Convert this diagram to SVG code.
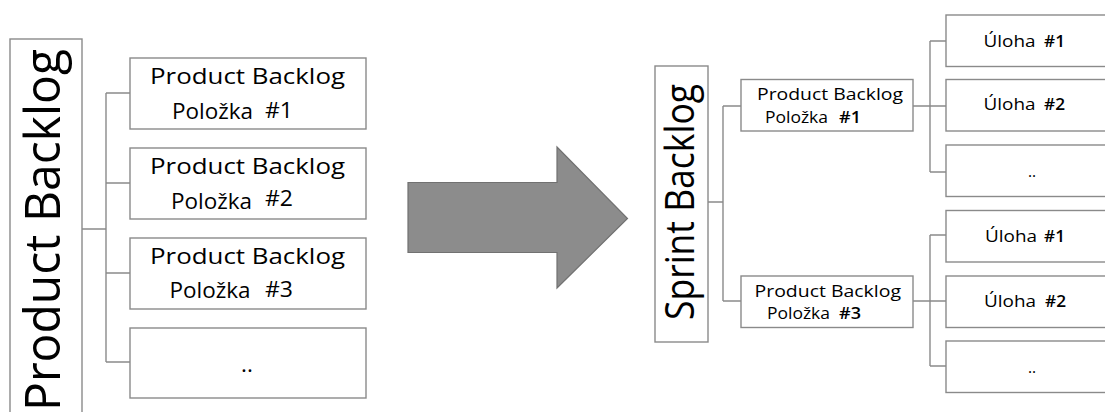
<svg xmlns="http://www.w3.org/2000/svg" width="1105" height="412" viewBox="0 0 1105 412">
<style>
.box{fill:#fff;stroke:#8a8a8a;stroke-width:1.4}
.ln{fill:none;stroke:#8a8a8a;stroke-width:1.4}
text{font-family:"Open Sans","Liberation Sans",sans-serif;fill:#000}
.t22{font-size:22.5px}
.t15{font-size:15.5px}
.h{font-weight:600}
</style>
<rect width="1105" height="412" fill="#fff"/>
<g id="connectors">
<path class="ln" d="M82 229H106M106 93V362M106 93H130M106 183H130M106 273H130M106 362H130"/>
<path class="ln" d="M708 202H723M723 106V301M723 106H741M723 301H741"/>
<path class="ln" d="M913 106H930M930 41V172M930 41H946M930 106H946M930 172H946"/>
<path class="ln" d="M913 301H930M930 235V366M930 235H946M930 301H946M930 366H946"/>
</g>
<g id="product-backlog">
<rect class="box" x="10" y="39" width="72" height="390"/>
<text transform="translate(60 411) rotate(-90)" font-size="49" textLength="362" lengthAdjust="spacingAndGlyphs">Product Backlog</text>
</g>
<g id="pb-item1">
<rect class="box" x="130" y="58" width="236" height="71"/>
<text class="t22" x="150" y="84" textLength="195" lengthAdjust="spacingAndGlyphs">Product Backlog</text>
<text class="t22" y="119"><tspan x="172" textLength="81" lengthAdjust="spacingAndGlyphs">Položka</tspan><tspan x="265" y="118" textLength="28" lengthAdjust="spacingAndGlyphs">#1</tspan></text>
</g>
<g id="pb-item2">
<rect class="box" x="130" y="148" width="236" height="71"/>
<text class="t22" x="150" y="174" textLength="195" lengthAdjust="spacingAndGlyphs">Product Backlog</text>
<text class="t22" y="209"><tspan x="171" textLength="81" lengthAdjust="spacingAndGlyphs">Položka</tspan><tspan x="265" y="206" textLength="28" lengthAdjust="spacingAndGlyphs">#2</tspan></text>
</g>
<g id="pb-item3">
<rect class="box" x="130" y="238" width="236" height="71"/>
<text class="t22" x="150" y="264" textLength="195" lengthAdjust="spacingAndGlyphs">Product Backlog</text>
<text class="t22" y="298"><tspan x="169.5" textLength="81" lengthAdjust="spacingAndGlyphs">Položka</tspan><tspan x="265" y="297" textLength="28" lengthAdjust="spacingAndGlyphs">#3</tspan></text>
</g>
<g id="pb-item4">
<rect class="box" x="130" y="328" width="236" height="70"/>
<text class="t22" x="247" y="372" text-anchor="middle">..</text>
</g>
<g id="arrow">
<polygon points="408,182.5 557,182.5 557,147 627.5,218.5 557,288 557,252.5 408,252.5" fill="#8c8c8c" stroke="#717171" stroke-width="1.2"/>
</g>
<g id="sprint-backlog">
<rect class="box" x="655" y="66" width="53" height="276"/>
<text transform="translate(694 320) rotate(-90)" font-size="40" textLength="236" lengthAdjust="spacingAndGlyphs">Sprint Backlog</text>
</g>
<g id="sb-item1">
<rect class="box" x="741" y="79.5" width="172" height="51.5"/>
<text class="t15" x="757" y="100" textLength="146" lengthAdjust="spacingAndGlyphs">Product Backlog</text>
<text class="t15" y="123"><tspan x="765" textLength="63" lengthAdjust="spacingAndGlyphs">Položka</tspan><tspan class="h" x="839" textLength="22" lengthAdjust="spacingAndGlyphs">#1</tspan></text>
</g>
<g id="sb-item3">
<rect class="box" x="741" y="276" width="172" height="51.5"/>
<text class="t15" x="754.5" y="296.5" textLength="146.5" lengthAdjust="spacingAndGlyphs">Product Backlog</text>
<text class="t15" y="319"><tspan x="767" textLength="63" lengthAdjust="spacingAndGlyphs">Položka</tspan><tspan class="h" x="839" textLength="22" lengthAdjust="spacingAndGlyphs">#3</tspan></text>
</g>
<g id="task1a">
<rect class="box" x="946" y="15" width="170" height="51.5"/>
<text class="t15" y="46.5"><tspan x="983.5" textLength="52" lengthAdjust="spacingAndGlyphs">Úloha</tspan><tspan class="h" x="1044" textLength="21" lengthAdjust="spacingAndGlyphs">#1</tspan></text>
</g>
<g id="task2a">
<rect class="box" x="946" y="79.5" width="170" height="51.5"/>
<text class="t15" y="110"><tspan x="983.5" textLength="52" lengthAdjust="spacingAndGlyphs">Úloha</tspan><tspan class="h" x="1044" textLength="21" lengthAdjust="spacingAndGlyphs">#2</tspan></text>
</g>
<g id="task3a">
<rect class="box" x="946" y="145" width="170" height="51.5"/>
<text class="t15" x="1032" y="177" text-anchor="middle">..</text>
</g>
<g id="task1b">
<rect class="box" x="946" y="210.5" width="170" height="51.5"/>
<text class="t15" y="241.5"><tspan x="985" textLength="52" lengthAdjust="spacingAndGlyphs">Úloha</tspan><tspan class="h" x="1044" textLength="21" lengthAdjust="spacingAndGlyphs">#1</tspan></text>
</g>
<g id="task2b">
<rect class="box" x="946" y="276" width="170" height="51.5"/>
<text class="t15" y="306.5"><tspan x="984" textLength="52" lengthAdjust="spacingAndGlyphs">Úloha</tspan><tspan class="h" x="1045" textLength="21" lengthAdjust="spacingAndGlyphs">#2</tspan></text>
</g>
<g id="task3b">
<rect class="box" x="946" y="341" width="170" height="51.5"/>
<text class="t15" x="1032" y="373" text-anchor="middle">..</text>
</g>
</svg>
